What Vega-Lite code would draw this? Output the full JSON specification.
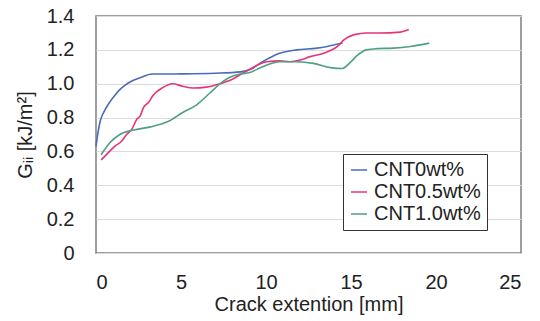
{
  "$schema": "https://vega.github.io/schema/vega-lite/v6.json",
  "width": 425,
  "height": 237,
  "autosize": "none",
  "padding": {"left": 96, "top": 16, "right": 19, "bottom": 68},
  "background": "white",
  "config": {
    "font": "Liberation Sans",
    "view": {"stroke": "#7f7f7f", "strokeWidth": 1.5}
  },
  "data": {
    "values": [
      {"x": 0.0, "g": 0.63, "s": "CNT0wt%"},
      {"x": 0.1, "g": 0.70, "s": "CNT0wt%"},
      {"x": 0.25, "g": 0.78, "s": "CNT0wt%"},
      {"x": 0.5, "g": 0.84, "s": "CNT0wt%"},
      {"x": 0.8, "g": 0.89, "s": "CNT0wt%"},
      {"x": 1.1, "g": 0.93, "s": "CNT0wt%"},
      {"x": 1.4, "g": 0.965, "s": "CNT0wt%"},
      {"x": 1.7, "g": 0.99, "s": "CNT0wt%"},
      {"x": 2.0, "g": 1.01, "s": "CNT0wt%"},
      {"x": 2.6, "g": 1.035, "s": "CNT0wt%"},
      {"x": 3.3, "g": 1.057, "s": "CNT0wt%"},
      {"x": 5.0, "g": 1.058, "s": "CNT0wt%"},
      {"x": 7.0, "g": 1.062, "s": "CNT0wt%"},
      {"x": 8.5, "g": 1.07, "s": "CNT0wt%"},
      {"x": 9.1, "g": 1.085, "s": "CNT0wt%"},
      {"x": 9.8, "g": 1.13, "s": "CNT0wt%"},
      {"x": 10.8, "g": 1.18, "s": "CNT0wt%"},
      {"x": 11.8, "g": 1.2, "s": "CNT0wt%"},
      {"x": 13.0, "g": 1.21, "s": "CNT0wt%"},
      {"x": 13.6, "g": 1.22, "s": "CNT0wt%"},
      {"x": 14.5, "g": 1.24, "s": "CNT0wt%"},

      {"x": 0.3, "g": 0.55, "s": "CNT0.5wt%"},
      {"x": 0.6, "g": 0.58, "s": "CNT0.5wt%"},
      {"x": 1.1, "g": 0.63, "s": "CNT0.5wt%"},
      {"x": 1.5, "g": 0.66, "s": "CNT0.5wt%"},
      {"x": 1.8, "g": 0.7, "s": "CNT0.5wt%"},
      {"x": 2.1, "g": 0.73, "s": "CNT0.5wt%"},
      {"x": 2.4, "g": 0.79, "s": "CNT0.5wt%"},
      {"x": 2.6, "g": 0.81, "s": "CNT0.5wt%"},
      {"x": 2.8, "g": 0.86, "s": "CNT0.5wt%"},
      {"x": 3.1, "g": 0.89, "s": "CNT0.5wt%"},
      {"x": 3.35, "g": 0.93, "s": "CNT0.5wt%"},
      {"x": 3.9, "g": 0.975, "s": "CNT0.5wt%"},
      {"x": 4.5, "g": 1.0, "s": "CNT0.5wt%"},
      {"x": 5.1, "g": 0.985, "s": "CNT0.5wt%"},
      {"x": 5.7, "g": 0.975, "s": "CNT0.5wt%"},
      {"x": 6.5, "g": 0.98, "s": "CNT0.5wt%"},
      {"x": 7.3, "g": 1.0, "s": "CNT0.5wt%"},
      {"x": 7.9, "g": 1.02, "s": "CNT0.5wt%"},
      {"x": 8.6, "g": 1.06, "s": "CNT0.5wt%"},
      {"x": 9.5, "g": 1.11, "s": "CNT0.5wt%"},
      {"x": 10.05, "g": 1.13, "s": "CNT0.5wt%"},
      {"x": 10.8, "g": 1.135, "s": "CNT0.5wt%"},
      {"x": 11.4, "g": 1.13, "s": "CNT0.5wt%"},
      {"x": 12.0, "g": 1.14, "s": "CNT0.5wt%"},
      {"x": 12.6, "g": 1.16, "s": "CNT0.5wt%"},
      {"x": 13.4, "g": 1.18, "s": "CNT0.5wt%"},
      {"x": 14.2, "g": 1.22, "s": "CNT0.5wt%"},
      {"x": 14.6, "g": 1.26, "s": "CNT0.5wt%"},
      {"x": 15.2, "g": 1.29, "s": "CNT0.5wt%"},
      {"x": 15.9, "g": 1.3, "s": "CNT0.5wt%"},
      {"x": 16.7, "g": 1.3, "s": "CNT0.5wt%"},
      {"x": 17.9, "g": 1.305, "s": "CNT0.5wt%"},
      {"x": 18.4, "g": 1.32, "s": "CNT0.5wt%"},

      {"x": 0.3, "g": 0.58, "s": "CNT1.0wt%"},
      {"x": 0.8, "g": 0.65, "s": "CNT1.0wt%"},
      {"x": 1.4, "g": 0.7, "s": "CNT1.0wt%"},
      {"x": 2.2, "g": 0.726, "s": "CNT1.0wt%"},
      {"x": 3.2, "g": 0.745, "s": "CNT1.0wt%"},
      {"x": 4.2, "g": 0.775, "s": "CNT1.0wt%"},
      {"x": 5.1, "g": 0.83, "s": "CNT1.0wt%"},
      {"x": 5.9, "g": 0.874, "s": "CNT1.0wt%"},
      {"x": 6.7, "g": 0.945, "s": "CNT1.0wt%"},
      {"x": 7.3, "g": 1.0, "s": "CNT1.0wt%"},
      {"x": 7.9, "g": 1.04, "s": "CNT1.0wt%"},
      {"x": 8.5, "g": 1.058, "s": "CNT1.0wt%"},
      {"x": 9.0, "g": 1.065, "s": "CNT1.0wt%"},
      {"x": 9.8, "g": 1.1, "s": "CNT1.0wt%"},
      {"x": 10.8, "g": 1.13, "s": "CNT1.0wt%"},
      {"x": 11.8, "g": 1.13, "s": "CNT1.0wt%"},
      {"x": 12.8, "g": 1.12, "s": "CNT1.0wt%"},
      {"x": 13.8, "g": 1.095, "s": "CNT1.0wt%"},
      {"x": 14.5, "g": 1.09, "s": "CNT1.0wt%"},
      {"x": 14.9, "g": 1.12, "s": "CNT1.0wt%"},
      {"x": 15.4, "g": 1.17, "s": "CNT1.0wt%"},
      {"x": 15.9, "g": 1.2, "s": "CNT1.0wt%"},
      {"x": 16.5, "g": 1.207, "s": "CNT1.0wt%"},
      {"x": 17.5, "g": 1.21, "s": "CNT1.0wt%"},
      {"x": 18.5, "g": 1.22, "s": "CNT1.0wt%"},
      {"x": 19.6, "g": 1.24, "s": "CNT1.0wt%"}
    ]
  },
  "mark": {"type": "line", "strokeWidth": 1.6, "interpolate": "monotone"},
  "encoding": {
    "x": {
      "field": "x",
      "type": "quantitative",
      "scale": {"domain": [0, 25], "nice": false},
      "axis": {
        "values": [0, 5, 10, 15, 20, 25],
        "title": "Crack extention [mm]",
        "titleFontSize": 20,
        "titleFontWeight": "normal",
        "titleColor": "#222",
        "titlePadding": 2,
        "labelFontSize": 20,
        "labelColor": "#222",
        "labelPadding": 19,
        "grid": false,
        "domain": false,
        "ticks": false
      }
    },
    "y": {
      "field": "g",
      "type": "quantitative",
      "scale": {"domain": [0, 1.4], "nice": false},
      "axis": {
        "values": [0, 0.2, 0.4, 0.6, 0.8, 1.0, 1.2, 1.4],
        "labelExpr": "datum.value == 0 ? '0' : format(datum.value, '.1f')",
        "title": "Gᵢᵢ [kJ/m²]",
        "titleFontSize": 20,
        "titleFontWeight": "normal",
        "titleColor": "#222",
        "titlePadding": 11,
        "labelFontSize": 20,
        "labelColor": "#222",
        "labelPadding": 22,
        "grid": true,
        "gridColor": "#dcdcdc",
        "gridWidth": 1.2,
        "domain": false,
        "ticks": false
      }
    },
    "color": {
      "field": "s",
      "type": "nominal",
      "scale": {
        "domain": ["CNT0wt%", "CNT0.5wt%", "CNT1.0wt%"],
        "range": ["#4a6db5", "#e8337c", "#4fa07c"]
      },
      "legend": {
        "orient": "none",
        "legendX": 247,
        "legendY": 138,
        "title": null,
        "symbolType": "stroke",
        "symbolSize": 260,
        "symbolStrokeWidth": 1.5,
        "labelFontSize": 20,
        "labelColor": "#222",
        "labelOffset": 5,
        "rowPadding": 2,
        "padding": 6,
        "fillColor": "white",
        "strokeColor": "#333",
        "labelLimit": 220
      }
    }
  }
}
